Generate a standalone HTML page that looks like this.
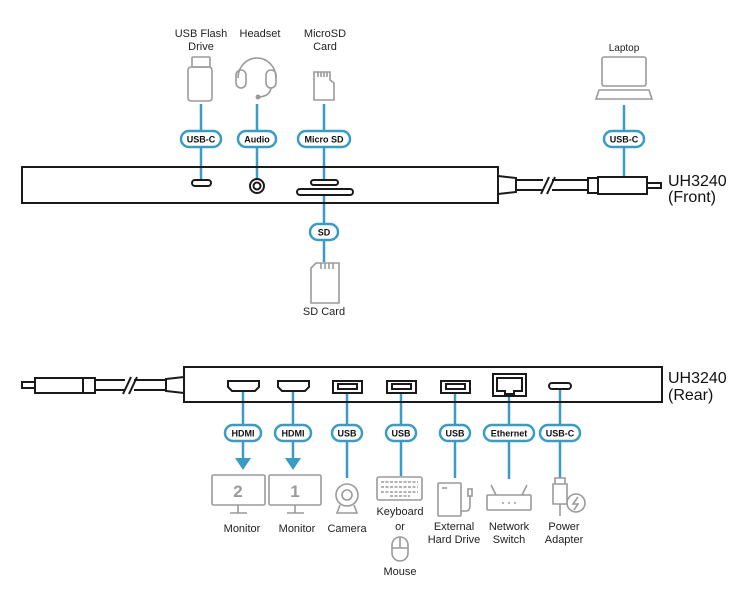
<!DOCTYPE html>
<html><head><style>
html,body{margin:0;padding:0;background:#fff;}
svg{display:block;font-family:"Liberation Sans",sans-serif;}
.l{stroke:#3a9cc4;stroke-width:2.5;fill:none}
.p{fill:#fff;stroke:#3a9cc4;stroke-width:2.5}
.pt{font-size:9px;font-weight:bold;text-anchor:middle;fill:#111}
.g{fill:none;stroke:#9a9a9a;stroke-width:1.6}
.k{fill:none;stroke:#1a1a1a;stroke-width:2}
.t{font-size:11px;text-anchor:middle;fill:#222}
.big{font-size:16px;fill:#111}
</style></head><body>
<svg width="745" height="600" viewBox="0 0 745 600">
<!-- FRONT -->
<g class="l">
<line x1="201" y1="104" x2="201" y2="181"/>
<line x1="257" y1="104" x2="257" y2="179"/>
<line x1="324" y1="104" x2="324" y2="181"/>
<line x1="324" y1="196" x2="324" y2="262"/>
<line x1="624" y1="105" x2="624" y2="177"/>
</g>
<rect x="22" y="167" width="476" height="36" class="k" stroke-width="2.2"/>
<rect x="192" y="180" width="19" height="6" rx="3" class="k" stroke-width="1.8"/>
<circle cx="257" cy="186" r="7" class="k" stroke-width="1.8"/>
<circle cx="257" cy="186" r="3.5" class="k" stroke-width="1.5"/>
<rect x="311" y="180" width="27" height="5" rx="2.5" class="k" stroke-width="1.8"/>
<rect x="297" y="189" width="56" height="6" rx="3" class="k" stroke-width="1.8"/>
<!-- front cable -->
<g class="k">
<path d="M498 176 L516 178 L516 192 L498 194"/>
<rect x="516" y="180" width="72" height="10"/>
<rect x="588" y="178" width="10" height="15"/>
<rect x="598" y="177" width="49" height="17"/>
<rect x="647" y="183" width="14" height="5"/>
</g>
<rect x="543" y="178" width="9" height="14" fill="#fff"/>
<line x1="541" y1="194" x2="549" y2="177" class="k"/>
<line x1="547" y1="194" x2="555" y2="177" class="k"/>
<text x="668" y="186" class="big">UH3240</text>
<text x="668" y="202" class="big">(Front)</text>
<!-- pills front -->
<rect x="181" y="131" width="40" height="16" rx="8" class="p"/><text x="201" y="142.5" class="pt">USB-C</text>
<rect x="238" y="131" width="38" height="16" rx="8" class="p"/><text x="257" y="142.5" class="pt">Audio</text>
<rect x="298" y="131" width="52" height="16" rx="8" class="p"/><text x="324" y="142.5" class="pt">Micro SD</text>
<rect x="310" y="224" width="28" height="16" rx="8" class="p"/><text x="324" y="235.5" class="pt">SD</text>
<rect x="604" y="131" width="40" height="16" rx="8" class="p"/><text x="624" y="142.5" class="pt">USB-C</text>
<!-- front icons -->
<g class="g">
<rect x="192" y="57" width="18" height="10" rx="1"/>
<rect x="188" y="67" width="24" height="34" rx="3"/>
<path d="M238 78 A19 20 0 0 1 276 78"/>
<rect x="236" y="70" width="10" height="18" rx="5"/>
<rect x="266" y="70" width="10" height="18" rx="5"/>
<path d="M271 88 Q270 96 259 97"/>
<path d="M314 72 H330 V80 L334 83 V100 H314 Z"/>
<path d="M318 72 v5 M321 72 v5 M324 72 v5 M327 72 v5"/>
<path d="M316 263 H339 V303 H311 V268 Z"/>
<path d="M321 263 v6 M325 263 v6 M329 263 v6 M333 263 v6"/>
<rect x="602" y="57" width="44" height="29" rx="2"/>
<path d="M599 90 H649 L652 99 H596 Z"/>
</g>
<circle cx="258" cy="97" r="2.5" fill="#9a9a9a"/>
<g class="t">
<text x="201" y="37">USB Flash</text><text x="201" y="50">Drive</text>
<text x="260" y="37">Headset</text>
<text x="325" y="37">MicroSD</text><text x="325" y="50">Card</text>
<text x="324" y="315">SD Card</text>
<text x="624" y="51" font-size="10">Laptop</text>
</g>

<!-- REAR -->
<g class="l">
<line x1="243" y1="392" x2="243" y2="458"/>
<line x1="293" y1="392" x2="293" y2="458"/>
<line x1="347" y1="394" x2="347" y2="478"/>
<line x1="401" y1="394" x2="401" y2="476"/>
<line x1="455" y1="394" x2="455" y2="478"/>
<line x1="509" y1="397" x2="509" y2="479"/>
<line x1="560" y1="389" x2="560" y2="478"/>
</g>
<polygon points="235,458 251,458 243,470" fill="#3a9cc4"/>
<polygon points="285,458 301,458 293,470" fill="#3a9cc4"/>
<rect x="184" y="367" width="478" height="35" class="k" stroke-width="2.2"/>
<g class="k" stroke-width="1.8">
<path d="M228 381 H259 V387 L255 391 H232 L228 387 Z"/>
<path d="M278 381 H309 V387 L305 391 H282 L278 387 Z"/>
<rect x="333" y="381" width="29" height="12"/>
<rect x="387" y="381" width="29" height="12"/>
<rect x="441" y="381" width="29" height="12"/>
<rect x="493" y="374" width="33" height="22"/>
<rect x="549" y="383" width="22" height="6" rx="3"/>
</g>
<g class="k" stroke-width="1.2">
<rect x="338" y="384" width="19" height="5"/>
<rect x="392" y="384" width="19" height="5"/>
<rect x="446" y="384" width="19" height="5"/>
<path d="M497 378 H522 V391 H514 V394 H505 V391 H497 Z"/>
</g>
<!-- rear cable -->
<g class="k">
<path d="M184 377 L166 379 L166 391 L184 393"/>
<rect x="95" y="380" width="71" height="10"/>
<rect x="83" y="378" width="12" height="15"/>
<rect x="35" y="378" width="48" height="15"/>
<rect x="22" y="382" width="13" height="6"/>
</g>
<rect x="125" y="378" width="9" height="14" fill="#fff"/>
<line x1="123" y1="394" x2="131" y2="377" class="k"/>
<line x1="129" y1="394" x2="137" y2="377" class="k"/>
<text x="668" y="383" class="big">UH3240</text>
<text x="668" y="400" class="big">(Rear)</text>
<!-- rear pills -->
<rect x="225" y="425" width="36" height="16" rx="8" class="p"/><text x="243" y="436.5" class="pt">HDMI</text>
<rect x="275" y="425" width="36" height="16" rx="8" class="p"/><text x="293" y="436.5" class="pt">HDMI</text>
<rect x="332" y="425" width="30" height="16" rx="8" class="p"/><text x="347" y="436.5" class="pt">USB</text>
<rect x="386" y="425" width="30" height="16" rx="8" class="p"/><text x="401" y="436.5" class="pt">USB</text>
<rect x="440" y="425" width="30" height="16" rx="8" class="p"/><text x="455" y="436.5" class="pt">USB</text>
<rect x="484" y="425" width="50" height="16" rx="8" class="p"/><text x="509" y="436.5" class="pt" font-weight="normal" font-size="8.5">Ethernet</text>
<rect x="540" y="425" width="40" height="16" rx="8" class="p"/><text x="560" y="436.5" class="pt">USB-C</text>
<!-- rear icons -->
<g class="g">
<rect x="212" y="475" width="53" height="30" rx="1.5"/>
<path d="M238 505 v8 M230 513 h17"/>
<rect x="269" y="475" width="52" height="30" rx="1.5"/>
<path d="M295 505 v8 M287 513 h17"/>
<circle cx="347" cy="495" r="11"/>
<circle cx="347" cy="495" r="5"/>
<path d="M340 505 L337 513 H357 L354 505"/>
<rect x="377" y="477" width="45" height="23" rx="2"/>
<path d="M381 482 h37 M381 487 h37 M381 492 h37 M390 496 h20" stroke-dasharray="3 1.5"/>
<rect x="392" y="537" width="16" height="24" rx="8"/>
<path d="M392 548 h16 M400 537 v11"/>
<rect x="438" y="483" width="23" height="33" rx="1"/>
<path d="M442 488 h5"/>
<path d="M461 511 h5 Q470 511 470 505 V496"/>
<rect x="468" y="489" width="4" height="7"/>
<rect x="487" y="495" width="44" height="15" rx="1"/>
<path d="M496 495 L491 485 M522 495 L527 485"/>
<path d="M502 503 h2 M508 503 h2 M514 503 h2"/>
<path d="M555 478 h10 v6 h-10 z M553 484 h14 v20 h-14 z"/>
<path d="M560 504 v12"/>
<circle cx="576" cy="503" r="9" fill="#fff"/>
<path d="M578 497 L573 504 H578 L574 510"/>
</g>
<text x="238" y="497" font-size="17" font-weight="bold" fill="#9a9a9a" text-anchor="middle">2</text>
<text x="295" y="497" font-size="17" font-weight="bold" fill="#9a9a9a" text-anchor="middle">1</text>
<g class="t">
<text x="242" y="532">Monitor</text>
<text x="297" y="532">Monitor</text>
<text x="347" y="532">Camera</text>
<text x="400" y="515">Keyboard</text>
<text x="400" y="530">or</text>
<text x="400" y="575">Mouse</text>
<text x="454" y="530">External</text>
<text x="454" y="543">Hard Drive</text>
<text x="509" y="530">Network</text>
<text x="509" y="543">Switch</text>
<text x="564" y="530">Power</text>
<text x="564" y="543">Adapter</text>
</g>
</svg>
</body></html>
